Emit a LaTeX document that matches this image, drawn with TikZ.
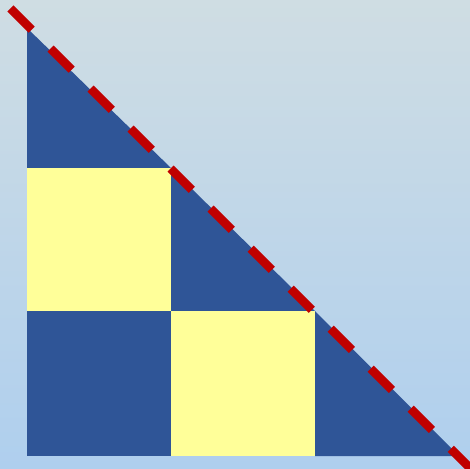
\documentclass[tikz,border=0pt]{standalone}
\definecolor{bgtop}{HTML}{CFDDE3}
\definecolor{bgbot}{HTML}{AFCFEE}
\definecolor{stairblue}{HTML}{2F5597}
\definecolor{stairyellow}{HTML}{FFFF99}
\definecolor{dashred}{HTML}{C00000}
\tikzset{
  bluepart/.style={fill=stairblue},
  yellowpart/.style={fill=stairyellow},
  diagline/.style={draw=dashred, line width=8.5pt, dash pattern=on 30pt off 26.6pt}
}
\begin{document}
\begin{tikzpicture}[x=1pt,y=-1pt]
\useasboundingbox (0,0) rectangle (470,468);
\shade[top color=bgtop, bottom color=bgbot] (0,0) rectangle (470,468);
% staircase pieces
\path[bluepart] (27,28) -- (171,168) -- (27,168) -- cycle;
\path[yellowpart] (27,168) rectangle (171,311);
\path[bluepart] (171,168) -- (315,311) -- (171,311) -- cycle;
\path[bluepart] (27,311) rectangle (171,456);
\path[yellowpart] (171,311) rectangle (315,456);
\path[bluepart] (315,311) -- (458,455) -- (458,456) -- (315,456) -- cycle;
% dashed diagonal
\coordinate (s) at (10.5,8.5);
\coordinate (e) at (478,476);
\draw[diagline] (s) -- (e);
\end{tikzpicture}
\end{document}
